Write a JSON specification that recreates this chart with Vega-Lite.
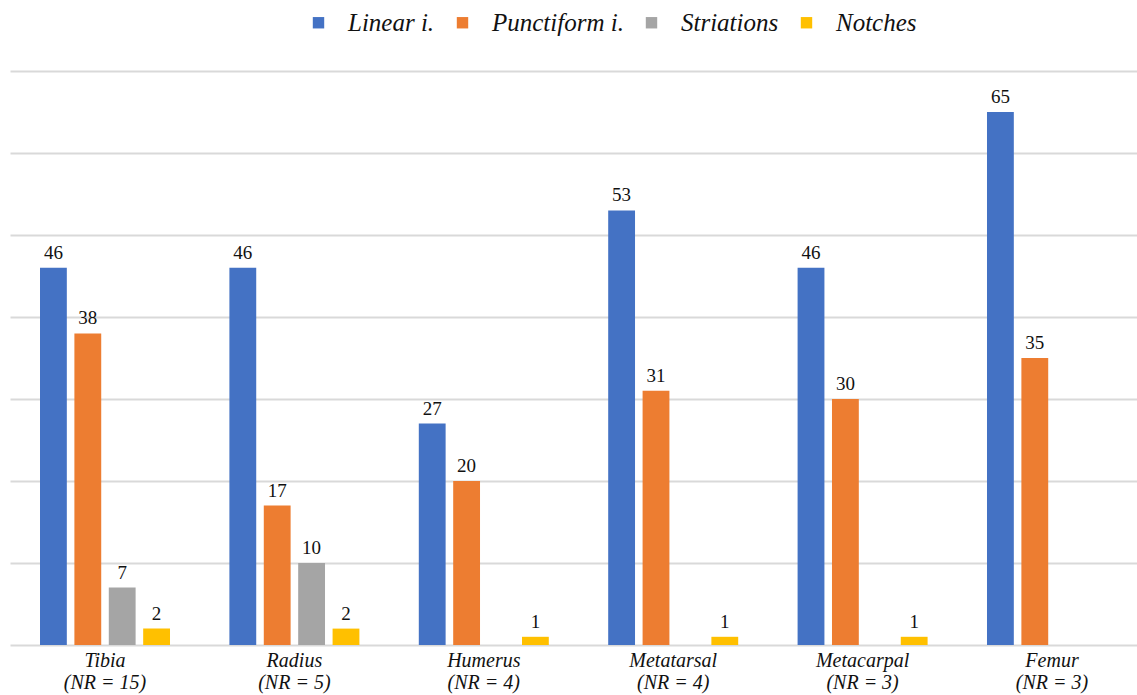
{
  "$schema": "https://vega.github.io/schema/vega-lite/v6.json",
  "width": 1127,
  "height": 574,
  "autosize": {"type": "none"},
  "padding": {"left": 10, "top": 71, "right": 0, "bottom": 50},
  "background": "white",
  "config": {"view": {"stroke": null}, "font": "Liberation Serif, Times New Roman, serif"},
  "data": {
    "values": [
      {"bone": "Tibia (NR = 15)", "type": "Linear i.", "count": 46},
      {"bone": "Tibia (NR = 15)", "type": "Punctiform i.", "count": 38},
      {"bone": "Tibia (NR = 15)", "type": "Striations", "count": 7},
      {"bone": "Tibia (NR = 15)", "type": "Notches", "count": 2},
      {"bone": "Radius (NR = 5)", "type": "Linear i.", "count": 46},
      {"bone": "Radius (NR = 5)", "type": "Punctiform i.", "count": 17},
      {"bone": "Radius (NR = 5)", "type": "Striations", "count": 10},
      {"bone": "Radius (NR = 5)", "type": "Notches", "count": 2},
      {"bone": "Humerus (NR = 4)", "type": "Linear i.", "count": 27},
      {"bone": "Humerus (NR = 4)", "type": "Punctiform i.", "count": 20},
      {"bone": "Humerus (NR = 4)", "type": "Notches", "count": 1},
      {"bone": "Metatarsal (NR = 4)", "type": "Linear i.", "count": 53},
      {"bone": "Metatarsal (NR = 4)", "type": "Punctiform i.", "count": 31},
      {"bone": "Metatarsal (NR = 4)", "type": "Notches", "count": 1},
      {"bone": "Metacarpal (NR = 3)", "type": "Linear i.", "count": 46},
      {"bone": "Metacarpal (NR = 3)", "type": "Punctiform i.", "count": 30},
      {"bone": "Metacarpal (NR = 3)", "type": "Notches", "count": 1},
      {"bone": "Femur (NR = 3)", "type": "Linear i.", "count": 65},
      {"bone": "Femur (NR = 3)", "type": "Punctiform i.", "count": 35}
    ]
  },
  "encoding": {
    "x": {
      "field": "bone",
      "type": "nominal",
      "sort": null,
      "scale": {"paddingInner": 0.3136, "paddingOuter": 0.132, "align": 0.6},
      "axis": {
        "title": null,
        "domain": false,
        "ticks": false,
        "grid": false,
        "labelAngle": 0,
        "labelFont": "Liberation Serif, Times New Roman, serif",
        "labelFontStyle": "italic",
        "labelFontSize": 20,
        "labelColor": "#111111",
        "labelPadding": 5,
        "labelLineHeight": 22,
        "labelBaseline": "top",
        "labelExpr": "[split(datum.label, ' (')[0], '(' + split(datum.label, ' (')[1]]"
      }
    },
    "xOffset": {
      "field": "type",
      "type": "nominal",
      "scale": {"domain": ["Linear i.", "Punctiform i.", "Striations", "Notches"], "paddingInner": 0.22, "paddingOuter": 0}
    },
    "y": {
      "field": "count",
      "type": "quantitative",
      "scale": {"domain": [0, 70], "nice": false},
      "axis": {
        "title": null,
        "labels": false,
        "ticks": false,
        "domain": false,
        "values": [0, 10, 20, 30, 40, 50, 60, 70],
        "gridColor": "#d9d9d9",
        "gridWidth": 2
      }
    }
  },
  "layer": [
    {
      "mark": {"type": "bar"},
      "encoding": {
        "color": {
          "field": "type",
          "type": "nominal",
          "scale": {
            "domain": ["Linear i.", "Punctiform i.", "Striations", "Notches"],
            "range": ["#4472C4", "#ED7D31", "#A5A5A5", "#FFC000"]
          },
          "legend": {
            "title": null,
            "orient": "none",
            "direction": "horizontal",
            "legendX": 296,
            "legendY": -61,
            "symbolType": "square",
            "symbolSize": 130,
            "symbolStrokeWidth": 0,
            "labelFont": "Liberation Serif, Times New Roman, serif",
            "labelFontStyle": "italic",
            "labelFontSize": 25,
            "labelColor": "#111111",
            "labelOffset": 17,
            "columnPadding": 15,
            "labelLimit": 300
          }
        }
      }
    },
    {
      "mark": {
        "type": "text",
        "baseline": "bottom",
        "dy": -5,
        "font": "Liberation Serif, Times New Roman, serif",
        "fontSize": 19,
        "color": "#111111"
      },
      "encoding": {
        "text": {"field": "count", "type": "quantitative"}
      }
    }
  ]
}
